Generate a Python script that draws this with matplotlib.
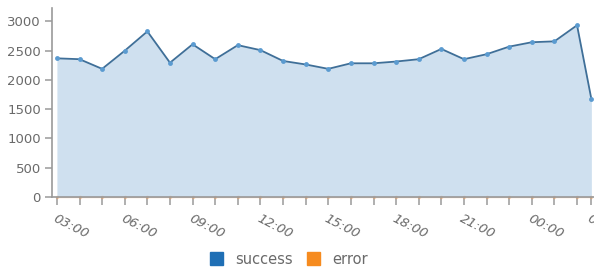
import matplotlib
matplotlib.use('Agg')
import matplotlib.pyplot as plt
import pandas as pd
from matplotlib.patches import Patch

# time stamps (one per hour, last one a partial hour)
times = ['2015-06-01 03:00', '2015-06-01 04:00', '2015-06-01 05:00', '2015-06-01 06:00',
         '2015-06-01 07:00', '2015-06-01 08:00', '2015-06-01 09:00', '2015-06-01 10:00',
         '2015-06-01 11:00', '2015-06-01 12:00', '2015-06-01 13:00', '2015-06-01 14:00',
         '2015-06-01 15:00', '2015-06-01 16:00', '2015-06-01 17:00', '2015-06-01 18:00',
         '2015-06-01 19:00', '2015-06-01 20:00', '2015-06-01 21:00', '2015-06-01 22:00',
         '2015-06-01 23:00', '2015-06-02 00:00', '2015-06-02 01:00', '2015-06-02 02:00',
         '2015-06-02 02:38']

success = [2370, 2355, 2190, 2500, 2830, 2295, 2610, 2355, 2595, 2510, 2325,
           2265, 2190, 2285, 2285, 2315, 2355, 2530, 2355, 2440, 2570, 2645,
           2660, 2935, 1675]
error = [0] * len(success)

tick_labels = ['03:00', '', '', '06:00', '', '', '09:00', '', '', '12:00', '', '',
               '15:00', '', '', '18:00', '', '', '21:00', '', '', '00:00', '', '',
               '02:38']

t = pd.to_datetime(times)

fig = plt.figure(figsize=(5.94, 2.70), dpi=100)
ax = fig.add_axes([52 / 594, 73 / 270, 542 / 594, 189 / 270])

ax.fill_between(t, success, 0, color='#cfe0ef', lw=0, zorder=1)
ax.plot(t, success, color='#3f6f98', lw=1.3, zorder=3)
ax.plot(t, success, 'o', color='#5b9bd0', ms=3.5, mec='none', zorder=4)
ax.plot(t, error, color='#f5a05a', lw=1.0, marker='o', ms=2.5, mec='none',
        alpha=0.4, zorder=2, clip_on=False)

ax.set_ylim(0, 3230)
ax.set_yticks([0, 500, 1000, 1500, 2000, 2500, 3000])
start = t[0] - pd.Timedelta(minutes=13)
end = t[0] + pd.Timedelta(minutes=int(23.76 * 60))
ax.set_xlim(start, end)
ax.set_xticks(t)
ax.set_xticklabels(tick_labels)

for s in ['top', 'right']:
    ax.spines[s].set_visible(False)
for s in ['left', 'bottom']:
    ax.spines[s].set_color('#9a9a9a')
    ax.spines[s].set_linewidth(1.2)
    ax.spines[s].set_zorder(3)

ax.tick_params(axis='y', colors='#9a9a9a', labelcolor='#6a6a6a', labelsize=9.5,
               length=5, width=1.1, pad=3)
ax.tick_params(axis='x', colors='#9a9a9a', labelcolor='#6a6a6a', labelsize=9.5,
               length=6, width=1.1, pad=5)
for lbl in ax.get_xticklabels():
    lbl.set_rotation(-27)
    lbl.set_ha('left')
    lbl.set_va('top')
    lbl.set_rotation_mode('anchor')
    lbl.set_fontstyle('italic')

# legend
handles = [Patch(color='#1f6fb5', label='success'), Patch(color='#f68b1f', label='error')]
fig.legend(handles=handles, loc='center', bbox_to_anchor=(289 / 594, 11 / 270),
           ncol=2, frameon=False, fontsize=10.5, handlelength=0.9, handleheight=0.9,
           columnspacing=1.0, handletextpad=0.8, labelcolor='#6a6a6a')

fig.savefig('out.png', dpi=100)
